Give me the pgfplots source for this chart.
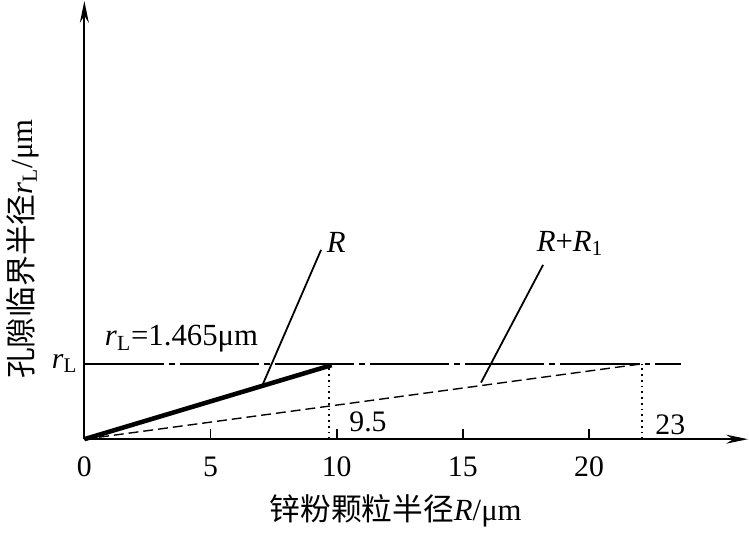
\documentclass[border=0pt]{standalone}
\usepackage{pgfplots}
\pgfplotsset{compat=1.18}
\usepackage{fontspec}
\setmainfont{Liberation Serif}
\newfontfamily\cjk{Noto Sans CJK SC}
\usetikzlibrary{arrows.meta}
\begin{document}
\begin{tikzpicture}
\begin{axis}[
  scale only axis,
  width=334.7pt, height=221pt,
  xmin=0, xmax=26.3, ymin=0, ymax=8.52,
  axis lines=left,
  axis line style={line width=1pt, -{Stealth[length=11pt,width=4.5pt]}},
  xtick={0,5,10,15,20},
  ytick={1.465},
  yticklabels={\textit{r}\textsubscript{L}},
  tick align=inside,
  x tick style={line width=0.9pt, black},
  major tick length=5pt,
  y tick style={draw=none},
  /pgf/number format/assume math mode=true,
  ticklabel style={font=\fontsize{15}{17}\selectfont},
  xticklabel style={yshift=-5.5pt},
  clip=false,
  xlabel={{\cjk 锌粉颗粒半径}\textit{R}/μm},
  ylabel={{\cjk 孔隙临界半径}\textit{r}\textsubscript{L}/μm},
  every axis x label/.style={at={(axis description cs:0.469,0)}, yshift=-36pt, anchor=center, font=\fontsize{15.5}{18}\selectfont},
  every axis y label/.style={at={(axis description cs:0,0.434)}, xshift=-31pt, rotate=90, anchor=center, font=\fontsize{15.5}{18}\selectfont},
]
% reference line r_L (dash-dot)
\addplot[black, line width=0.8pt, dash pattern=on 40pt off 2.5pt on 3pt off 2.5pt] coordinates {(0,1.465) (23.65,1.465)};
% R (thick solid)
\addplot[black, line width=2.3pt] coordinates {(0,0) (9.8,1.44)};
% R+R1 (dashed)
\addplot[black, line width=0.7pt, dash pattern=on 5pt off 2.5pt] coordinates {(0,0) (22.1,1.465)};
% dotted verticals
\addplot[black, line width=0.9pt, dotted] coordinates {(9.7,0) (9.7,1.465)};
\addplot[black, line width=0.9pt, dotted] coordinates {(22.1,0) (22.1,1.465)};
% leader lines
\addplot[black, line width=0.9pt] coordinates {(7.02,1.008) (9.38,3.68)};
\addplot[black, line width=0.9pt] coordinates {(15.72,1.10) (18.18,3.39)};
% texts
\node[font=\fontsize{15.5}{18}\selectfont] at (axis cs:9.98,3.83) {\textit{R}};
\node[font=\fontsize{15.5}{18}\selectfont] at (axis cs:19.25,3.80) {\textit{R}+\textit{R}\textsubscript{1}};
\node[font=\fontsize{15.5}{18}\selectfont] at (axis cs:3.85,1.946) {\textit{r}\textsubscript{L}=1.465μm};
\node[font=\fontsize{15}{17}\selectfont] at (axis cs:11.24,0.33) {9.5};
\node[font=\fontsize{15}{17}\selectfont] at (axis cs:23.22,0.27) {23};
\end{axis}
\end{tikzpicture}
\end{document}
